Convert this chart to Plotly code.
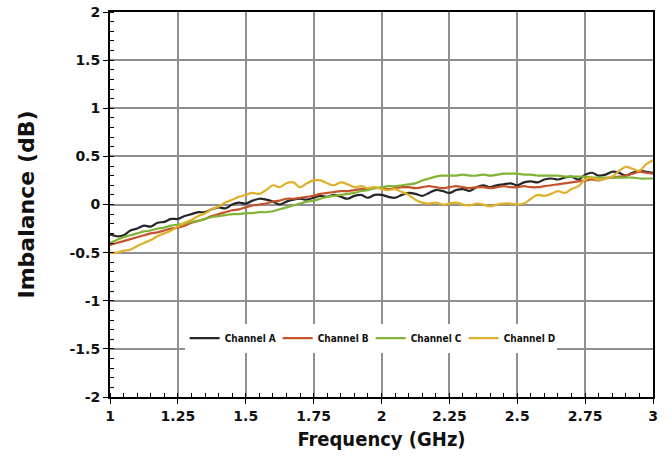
import plotly.graph_objects as go
import numpy as np

# frequency grid, 25 MHz step
freq = np.linspace(1.0, 3.0, 81)

chan_a = [-0.31, -0.33, -0.32, -0.27, -0.25, -0.22, -0.23, -0.19, -0.18, -0.15,
          -0.15, -0.12, -0.10, -0.08, -0.08, -0.05, -0.03, -0.04, 0.00, 0.02,
          0.01, 0.04, 0.06, 0.05, 0.03, 0.00, 0.03, 0.05, 0.06, 0.05,
          0.07, 0.09, 0.08, 0.10, 0.08, 0.06, 0.09, 0.10, 0.07, 0.10,
          0.10, 0.08, 0.07, 0.10, 0.12, 0.11, 0.09, 0.12, 0.15, 0.14,
          0.12, 0.15, 0.16, 0.14, 0.18, 0.20, 0.18, 0.20, 0.21, 0.22,
          0.20, 0.23, 0.24, 0.23, 0.26, 0.27, 0.26, 0.28, 0.29, 0.26,
          0.31, 0.33, 0.30, 0.31, 0.34, 0.33, 0.30, 0.33, 0.35, 0.34,
          0.33]

chan_b = [-0.42, -0.40, -0.38, -0.36, -0.34, -0.32, -0.30, -0.29, -0.27, -0.25,
          -0.24, -0.22, -0.19, -0.17, -0.15, -0.12, -0.10, -0.08, -0.06, -0.05,
          -0.03, -0.01, 0.00, 0.01, 0.03, 0.04, 0.06, 0.06, 0.07, 0.08,
          0.09, 0.11, 0.12, 0.13, 0.14, 0.14, 0.15, 0.16, 0.16, 0.17,
          0.17, 0.16, 0.17, 0.18, 0.18, 0.17, 0.18, 0.19, 0.18, 0.17,
          0.18, 0.19, 0.18, 0.17, 0.18, 0.18, 0.17, 0.18, 0.19, 0.18,
          0.18, 0.19, 0.18, 0.18, 0.19, 0.20, 0.21, 0.22, 0.23, 0.24,
          0.25, 0.26, 0.25, 0.27, 0.28, 0.29, 0.30, 0.32, 0.34, 0.33,
          0.32]

chan_c = [-0.40, -0.37, -0.34, -0.32, -0.30, -0.28, -0.27, -0.25, -0.24, -0.22,
          -0.21, -0.20, -0.18, -0.17, -0.15, -0.13, -0.12, -0.11, -0.10, -0.10,
          -0.09, -0.09, -0.08, -0.08, -0.07, -0.05, -0.03, -0.01, 0.01, 0.03,
          0.04, 0.06, 0.08, 0.09, 0.10, 0.11, 0.12, 0.14, 0.15, 0.17,
          0.18, 0.19, 0.19, 0.20, 0.21, 0.22, 0.25, 0.27, 0.29, 0.30,
          0.30, 0.30, 0.31, 0.30, 0.30, 0.31, 0.30, 0.31, 0.32, 0.32,
          0.32, 0.31, 0.31, 0.30, 0.30, 0.30, 0.30, 0.29, 0.29, 0.29,
          0.29, 0.28, 0.28, 0.28, 0.28, 0.28, 0.28, 0.28, 0.27, 0.27,
          0.27]

chan_d = [-0.50, -0.50, -0.48, -0.47, -0.43, -0.40, -0.37, -0.33, -0.30, -0.27,
          -0.23, -0.19, -0.16, -0.12, -0.09, -0.05, -0.02, 0.02, 0.05, 0.08,
          0.10, 0.12, 0.11, 0.15, 0.20, 0.18, 0.22, 0.23, 0.18, 0.22,
          0.25, 0.25, 0.22, 0.20, 0.23, 0.21, 0.18, 0.19, 0.17, 0.18,
          0.16, 0.15, 0.16, 0.13, 0.10, 0.05, 0.02, 0.01, 0.02, 0.00,
          0.01, 0.02, 0.00, -0.01, 0.01, 0.00, -0.02, 0.00, 0.01, 0.01,
          0.00, 0.01, 0.06, 0.10, 0.09, 0.11, 0.14, 0.12, 0.16, 0.19,
          0.26, 0.28, 0.25, 0.27, 0.29, 0.35, 0.39, 0.37, 0.35, 0.42,
          0.46]

names = ['Channel A', 'Channel B', 'Channel C', 'Channel D']
colors = ['#262626', '#C4532C', '#80B336', '#E0B02A']

x_ticks = [1, 1.25, 1.5, 1.75, 2, 2.25, 2.5, 2.75, 3]
x_labels = ['1', '1.25', '1.5', '1.75', '2', '2.25', '2.5', '2.75', '3']
y_ticks = [-2, -1.5, -1, -0.5, 0, 0.5, 1, 1.5, 2]
y_labels = ['-2', '-1.5', '-1', '-0.5', '0', '0.5', '1', '1.5', '2']

fig = go.Figure()
for nm, ys, col in zip(names, [chan_a, chan_b, chan_c, chan_d], colors):
    fig.add_trace(go.Scatter(x=freq, y=ys, name='<b>' + nm + '</b>', mode='lines',
                             line=dict(color=col, width=2.2, shape='spline')))

tick_font = dict(family='DejaVu Sans', size=14, color='#111')
fig.update_xaxes(range=[1, 3], tickvals=x_ticks, ticktext=['<b>' + t + '</b>' for t in x_labels],
                 showgrid=True, gridcolor='#8f8f8f', gridwidth=1.5,
                 showline=True, linecolor='black', linewidth=2, mirror=True,
                 ticks='outside', ticklen=5, tickcolor='black',
                 minor=dict(dtick=0.05, ticks='inside', ticklen=4, tickcolor='black', showgrid=False),
                 tickfont=tick_font, zeroline=False, automargin=False,
                 title=dict(text='<b>Frequency (GHz)</b>', standoff=9,
                            font=dict(family='DejaVu Sans Condensed', size=20, color='#111')))
fig.update_yaxes(range=[-2, 2], tickvals=y_ticks, ticktext=['<b>' + t + '</b>' for t in y_labels],
                 showgrid=True, gridcolor='#8f8f8f', gridwidth=1.5,
                 showline=True, linecolor='black', linewidth=2, mirror=True,
                 ticks='outside', ticklen=5, tickcolor='black',
                 minor=dict(dtick=0.1, ticks='inside', ticklen=4, tickcolor='black', showgrid=False),
                 tickfont=tick_font, zeroline=False, automargin=False,
                 title=dict(text='<b>Imbalance (dB)</b>', standoff=29,
                            font=dict(family='DejaVu Sans', size=22, color='#111')))

fig.update_layout(
    width=672, height=460,
    margin=dict(l=110, r=19, t=12, b=63),
    plot_bgcolor='white', paper_bgcolor='white',
    font=dict(family='DejaVu Sans', color='#111'),
    legend=dict(orientation='h', x=0.48, y=0.153, xanchor='center', yanchor='middle',
                bgcolor='white', font=dict(size=10, family='DejaVu Sans Condensed', color='#111'),
                entrywidth=48, entrywidthmode='pixels', itemwidth=30),
)

# drop the default 8px page margin so the figure sits at the window's corner
fig.write_html('out.html', config={'displayModeBar': False},
               post_script="document.body.style.margin='0';")
